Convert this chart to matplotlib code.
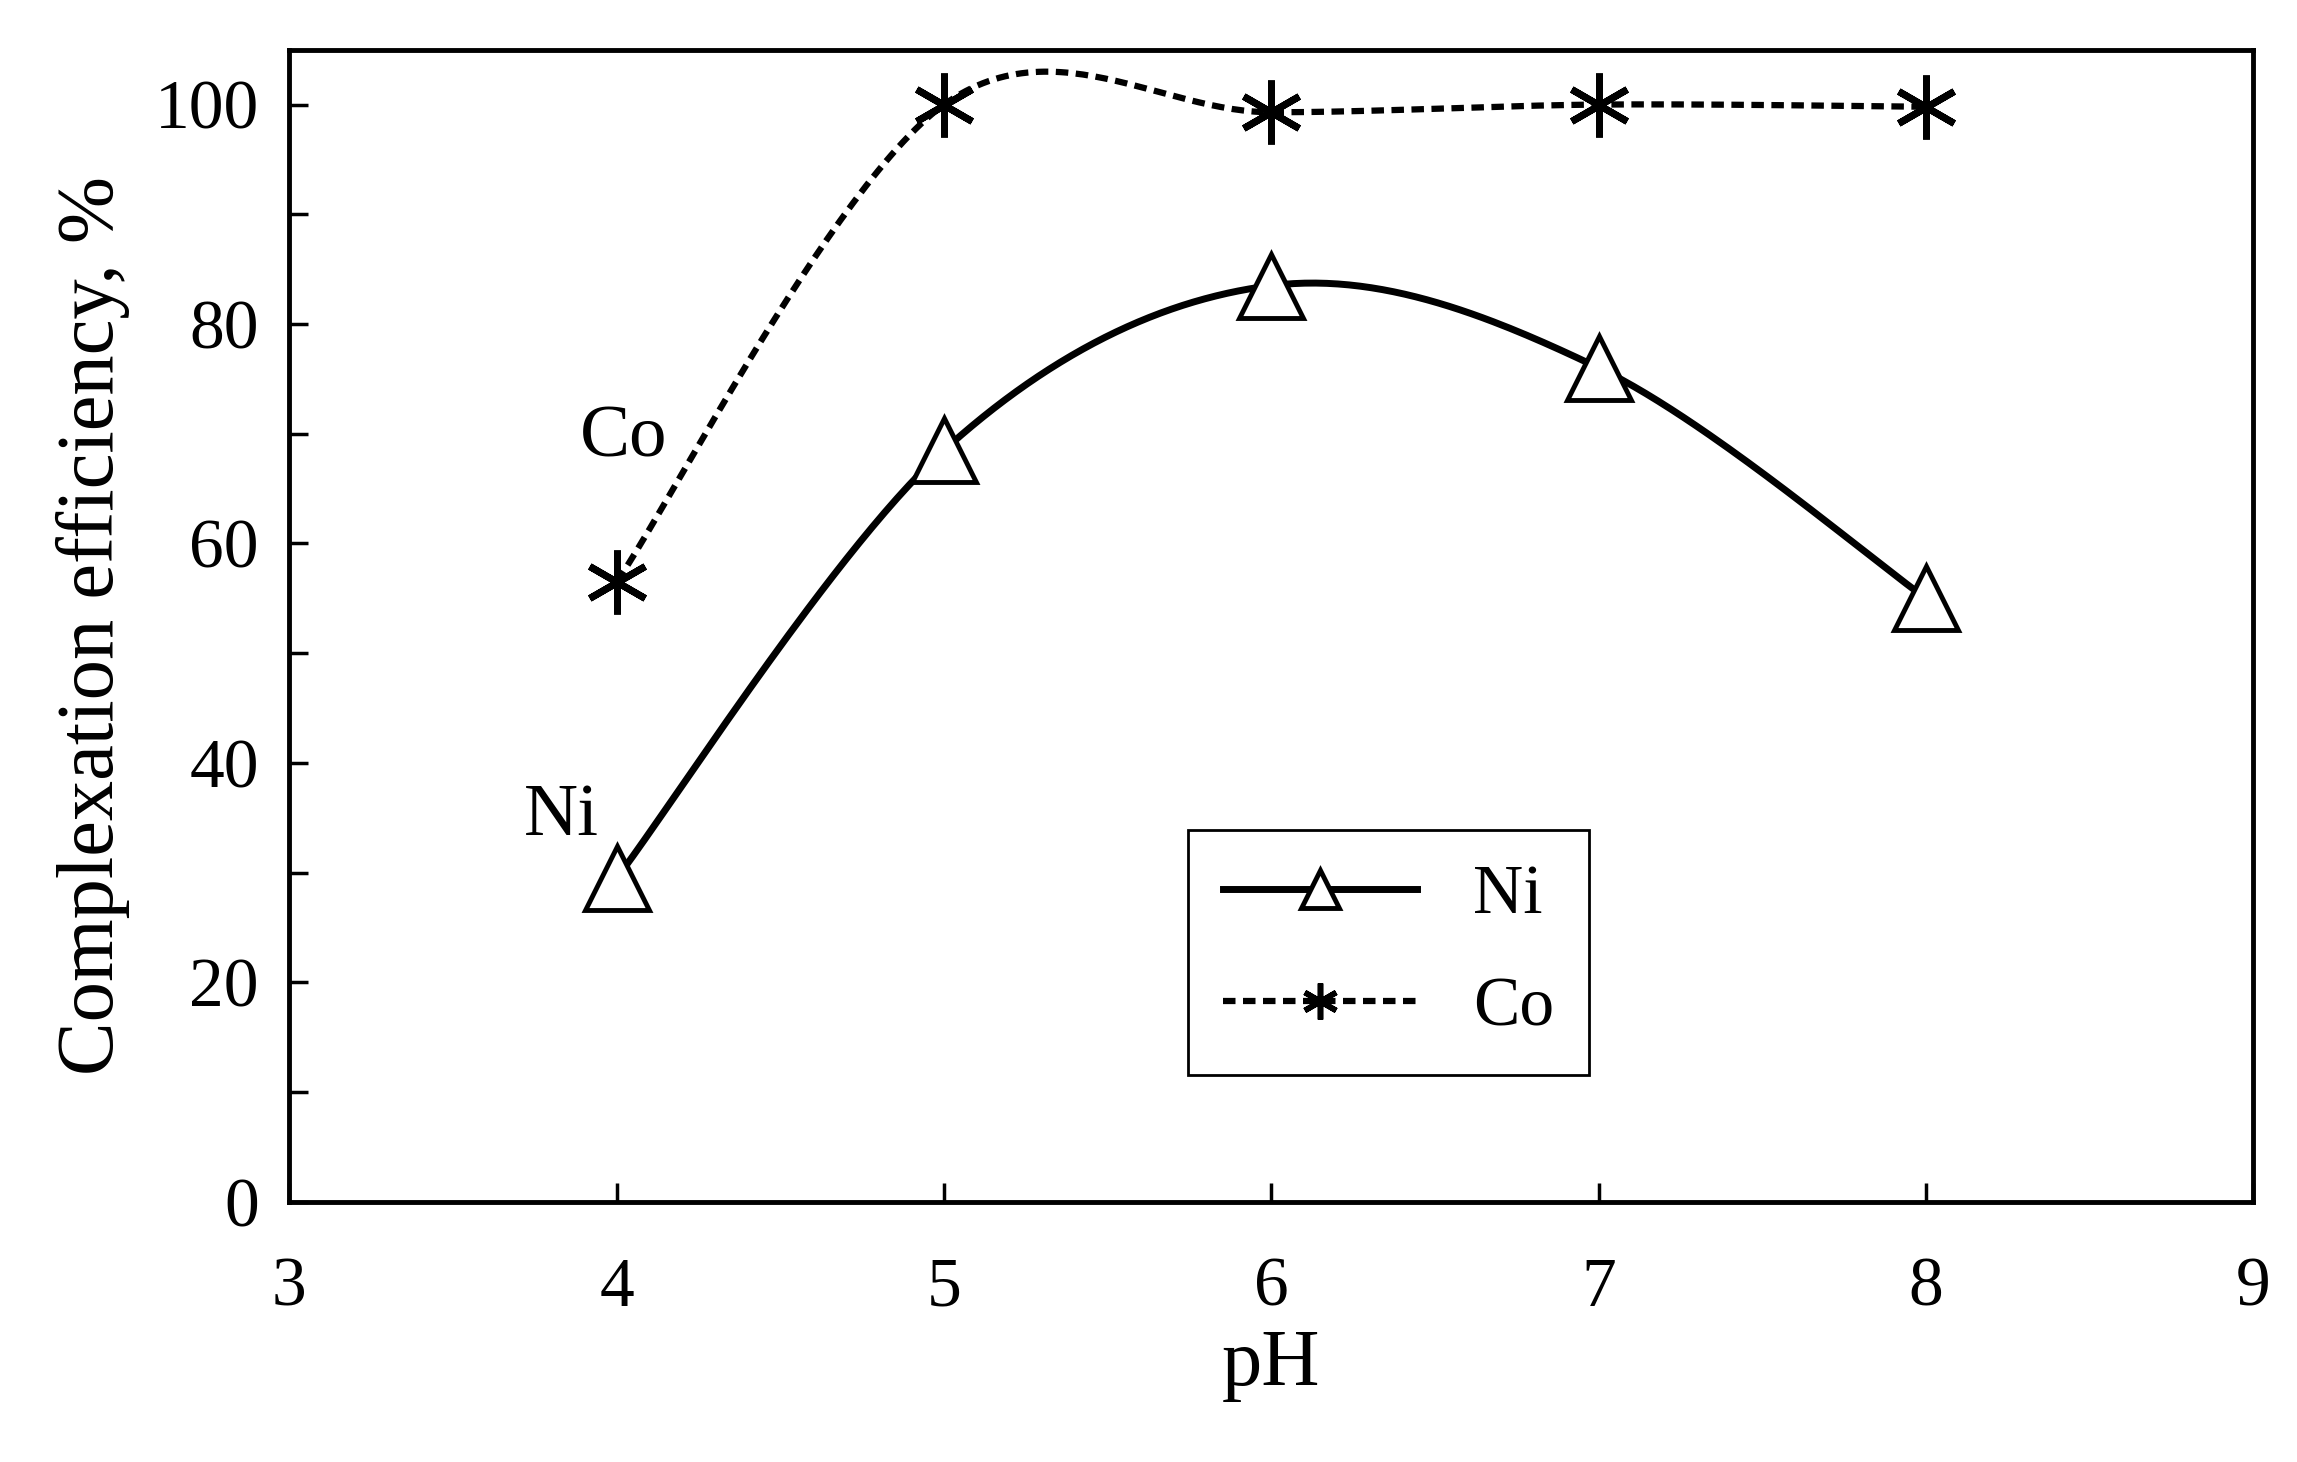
import numpy as np
import matplotlib.pyplot as plt

ph = [4, 5, 6, 7, 8]
ni = [29.5, 68.5, 83.5, 76, 55]
co = [56.5, 100, 99.3, 100, 99.8]

plt.rcParams['font.family'] = ['Liberation Serif', 'DejaVu Serif']
plt.rcParams['font.size'] = 50


def smooth(x, y, n=60):
    # Excel-like smoothed line (cardinal Bezier through the points)
    x = np.asarray(x, float)
    y = np.asarray(y, float)
    px, py = [], []
    for i in range(len(x) - 1):
        i0 = max(i - 1, 0)
        i3 = min(i + 2, len(x) - 1)
        c1x = x[i] + (x[i + 1] - x[i0]) / 6
        c1y = y[i] + (y[i + 1] - y[i0]) / 6
        c2x = x[i + 1] - (x[i3] - x[i]) / 6
        c2y = y[i + 1] - (y[i3] - y[i]) / 6
        t = np.linspace(0, 1, n)
        px.extend((1 - t) ** 3 * x[i] + 3 * (1 - t) ** 2 * t * c1x + 3 * (1 - t) * t ** 2 * c2x + t ** 3 * x[i + 1])
        py.extend((1 - t) ** 3 * y[i] + 3 * (1 - t) ** 2 * t * c1y + 3 * (1 - t) * t ** 2 * c2y + t ** 3 * y[i + 1])
    return px, py


fig = plt.figure(figsize=(22.97, 14.62), dpi=100)
ax = fig.add_axes([0.126, 0.178, 0.855, 0.788])

sx, sy = smooth(ph, ni)
ax.plot(sx, sy, color='black', lw=5, zorder=1)
ax.plot(ph, ni, ls='none', marker='^', ms=46, mfc='white', mec='black', mew=3.5, zorder=2)
sx, sy = smooth(ph, co)
ax.plot(sx, sy, color='black', lw=4.5, ls=(0, (2, 1.2)), zorder=1)
ax.plot(ph, co, ls='none', marker=(6, 2, 0), ms=46, color='black', mew=5, zorder=2)

# legend proxies
l1, = ax.plot([], [], color='black', lw=5, marker='^', ms=28, mfc='white', mec='black', mew=3.5)
l2, = ax.plot([], [], color='black', lw=4.5, ls=(0, (2, 1.2)), marker=(6, 2, 0), ms=26, mew=4)
leg = ax.legend([l1, l2], ['Ni', 'Co'], loc='lower left', bbox_to_anchor=(0.44, 0.08),
                fancybox=False, edgecolor='black', framealpha=1, handlelength=2.8,
                borderpad=0.5, labelspacing=0.7, fontsize=50)
leg.get_frame().set_linewidth(2)

ax.text(4.02, 66.5, 'Co', ha='center', va='bottom', fontsize=54)
ax.text(3.83, 32, 'Ni', ha='center', va='bottom', fontsize=54)

ax.set_xlim(3, 9)
ax.set_ylim(0, 105)
ax.set_xticks(range(3, 10))
ax.set_yticks(range(0, 101, 20))
ax.set_yticks(range(10, 101, 20), minor=True)
ax.tick_params(axis='y', which='both', direction='in', length=14, width=2.5, pad=22)
ax.tick_params(axis='x', direction='in', length=14, width=2.5, pad=40)
for s in ax.spines.values():
    s.set_linewidth(3.5)
ax.set_xlabel('pH', labelpad=6, fontsize=58)
ax.set_ylabel('Complexation efficiency, %', labelpad=18, fontsize=58)

fig.savefig('out.png')
